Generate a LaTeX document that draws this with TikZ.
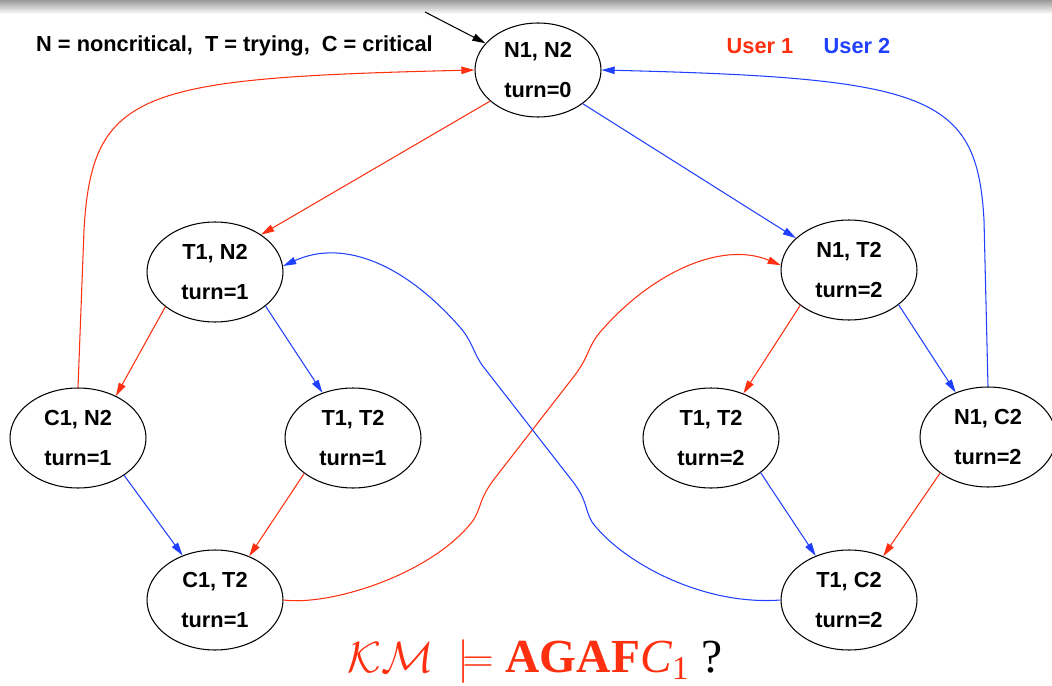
\documentclass[tikz,border=0pt]{standalone}
\usepackage{fontspec}
\setmainfont{Liberation Sans}
\newfontfamily\timesfont{Liberation Serif}
\usepackage{tikz}
\usetikzlibrary{shapes.geometric, arrows.meta}
\definecolor{usrred}{RGB}{255,48,16}
\definecolor{usrblue}{RGB}{32,64,255}
\tikzset{
  kstate/.style={ellipse, draw, line width=0.6pt, inner sep=0pt, minimum width=2.72cm, minimum height=2cm,
    align=center, font=\bfseries\fontsize{12.4}{22.7}\selectfont},
  label/.style={font=\bfseries\fontsize{12.4}{14}\selectfont},
  arrow/.style={line width=0.6pt, -{Triangle[length=7.5pt, width=4.2pt]}},
  move1/.style={arrow, usrred},
  move2/.style={arrow, usrblue}
}

\begin{document}
\begin{tikzpicture}[x=0.02cm, y=-0.02cm]
  \useasboundingbox (0,0) rectangle (1052,686);
  \shade[top color=gray!80, bottom color=white] (0,0) rectangle (1052,14);
  % states
  \node[kstate, minimum width=2.52cm, minimum height=1.88cm] (n1n2) at (538,70) {N1, N2\\turn=0};
  \node[kstate] (t1n2) at (215,272) {T1, N2\\turn=1};
  \node[kstate] (n1t2) at (849,270) {N1, T2\\turn=2};
  \node[kstate] (c1n2) at (78,438) {C1, N2\\turn=1};
  \node[kstate] (t1t2a) at (353,438) {T1, T2\\turn=1};
  \node[kstate] (t1t2b) at (711,438) {T1, T2\\turn=2};
  \node[kstate] (n1c2) at (988,437) {N1, C2\\turn=2};
  \node[kstate] (c1t2) at (215,600) {C1, T2\\turn=1};
  \node[kstate] (t1c2) at (849,600) {T1, C2\\turn=2};
  % legend
  \node[label, anchor=west] (legend) at (30,46) {N = noncritical,\ \ T = trying,\ \ C = critical};
  \node[label, text=usrred] (user1) at (760,46) {User 1};
  \node[label, text=usrblue] (user2) at (857,46) {User 2};
  % initial state
  \coordinate (init) at (425,12);
  \draw[arrow] (init) -- (n1n2.153);
  % user 1 moves
  \draw[move1] (n1n2.213) -- (t1n2.39);
  \draw[move1] (t1n2.215) -- (c1n2.48);
  \draw[move1] (t1t2a.216) -- (c1t2.52);
  \draw[move1] (n1t2.216) -- (t1t2b.54);
  \draw[move1] (n1c2.217) -- (t1c2.52);
  \draw[move1] (c1n2.north) -- (84,230) .. controls (92,90) and (140,78) .. (n1n2.west);
  \draw[move1] (c1t2.east) .. controls (330,606) and (430,575) .. (472,522)
    .. controls (482,508) and (478,500) .. (495,478) -- (575,375)
    .. controls (590,355) and (588,345) .. (602,330)
    .. controls (650,275) and (720,240) .. (n1t2.176);
  % user 2 moves
  \draw[move2] (n1n2.323) -- (n1t2.149);
  \draw[move2] (t1n2.326) -- (t1t2a.124);
  \draw[move2] (c1n2.321) -- (c1t2.126);
  \draw[move2] (n1t2.325) -- (n1c2.126);
  \draw[move2] (t1t2b.325) -- (t1c2.127);
  \draw[move2] (n1c2.north) -- (984,220) .. controls (977,95) and (930,78) .. (n1n2.east);
  \draw[move2] (t1c2.west) .. controls (700,606) and (620,560) .. (592,522)
    .. controls (584,508) and (588,500) .. (570,478) -- (482,365)
    .. controls (472,350) and (472,340) .. (458,325)
    .. controls (400,260) and (340,240) .. (t1n2.5);
  % property
  \node[font=\timesfont\fontsize{27}{30}\selectfont] (goal) at (535,662)
    {\textcolor{usrred}{$\mathcal{KM}$\ \ $\models$ \textbf{AGAF}\textit{C}\textsubscript{1}}\ ?};
\end{tikzpicture}
\end{document}
